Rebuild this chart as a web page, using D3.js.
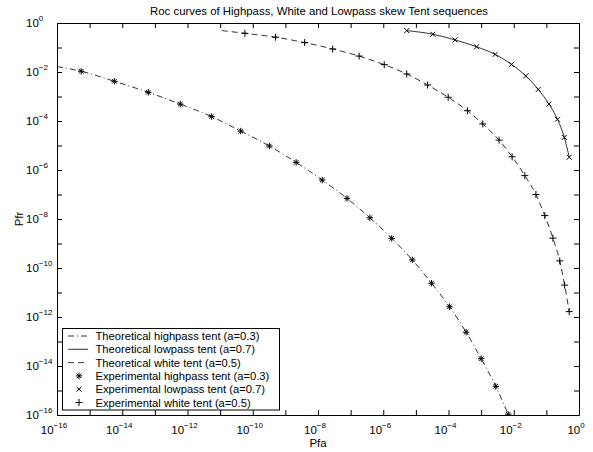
<!DOCTYPE html>
<html>
<head>
<meta charset="utf-8">
<script src="https://cdn.jsdelivr.net/npm/d3@7"></script>
<style>
body { margin: 0; background: #fff; }
text { font-family: Arial, "Liberation Sans", sans-serif; fill: #000; }
</style>
</head>
<body>
<svg id="chart"></svg>
<script>
// values are base-10 exponents
const highpassPfa = [-15.26, -14.24, -13.20, -12.22, -11.26, -10.37, -9.49, -8.67, -7.87, -7.11, -6.41, -5.74, -5.11, -4.52, -3.97, -3.46, -3.00, -2.55, -2.17];
const highpassPfr = [-1.97, -2.38, -2.83, -3.31, -3.82, -4.41, -5.02, -5.69, -6.41, -7.16, -7.95, -8.79, -9.67, -10.62, -11.58, -12.62, -13.70, -14.83, -15.97];

const lowpassPfa = [-5.28, -4.48, -3.80, -3.14, -2.57, -2.07, -1.63, -1.25, -0.92, -0.66, -0.45, -0.30];
const lowpassPfr = [-0.31, -0.46, -0.69, -0.97, -1.28, -1.69, -2.16, -2.71, -3.31, -3.93, -4.67, -5.48];

const whitePfa = [-10.24, -9.30, -8.41, -7.55, -6.74, -5.97, -5.28, -4.64, -4.01, -3.42, -2.95, -2.45, -2.05, -1.66, -1.32, -1.05, -0.80, -0.59, -0.44, -0.30];
const whitePfr = [-0.42, -0.58, -0.80, -1.06, -1.35, -1.70, -2.08, -2.53, -3.03, -3.58, -4.12, -4.78, -5.46, -6.23, -7.00, -7.86, -8.78, -9.71, -10.70, -11.78];

// theoretical curves, read at their ends and through the markers
const hpTheoryPfa = [-16].concat(highpassPfa, [-2.06]);
const hpTheoryPfr = [-1.78].concat(highpassPfr, [-16.3]);
const lpTheoryPfa = lowpassPfa;
const lpTheoryPfr = lowpassPfr;
const whTheoryPfa = [-10.95].concat(whitePfa);
const whTheoryPfr = [-0.31].concat(whitePfr);

const tickExps = d3.range(-16, 1);
const legendLabels = [
  'Theoretical highpass tent (a=0.3)',
  'Theoretical lowpass tent (a=0.7)',
  'Theoretical white tent (a=0.5)',
  'Experimental highpass tent (a=0.3)',
  'Experimental lowpass tent (a=0.7)',
  'Experimental white tent (a=0.5)'
];

const W = 593, H = 452;
const m = { left: 57, right: 14, top: 23, bottom: 37 };

const svg = d3.select('#chart').attr('width', W).attr('height', H);

const x = d3.scaleLog().domain([1e-16, 1]).range([m.left, W - m.right]);
const y = d3.scaleLog().domain([1e-16, 1]).range([H - m.bottom, m.top]);

const pts = (px, py) => px.map((v, i) => [Math.pow(10, v), Math.pow(10, py[i])]);

svg.append('clipPath').attr('id', 'clip')
  .append('rect')
  .attr('x', m.left).attr('y', m.top)
  .attr('width', W - m.left - m.right).attr('height', H - m.top - m.bottom);

// axes, ticks inward on all four sides
const tv = tickExps.map(e => Math.pow(10, e));
const axes = [
  [d3.axisBottom(x), `translate(0,${H - m.bottom})`],
  [d3.axisTop(x), `translate(0,${m.top})`],
  [d3.axisLeft(y), `translate(${m.left},0)`],
  [d3.axisRight(y), `translate(${W - m.right},0)`]
];
axes.forEach(([ax, tr]) => {
  const g = svg.append('g').attr('transform', tr)
    .call(ax.tickValues(tv).tickFormat('').tickSize(-5).tickSizeOuter(0));
  g.select('.domain').attr('stroke', '#000').attr('stroke-width', 1);
  g.selectAll('.tick line').attr('stroke', '#000').attr('stroke-width', 1);
});

// tick labels 10^n for even exponents
const evenExps = tickExps.filter(e => e % 2 === 0);
const fmtExp = e => (e < 0 ? '\u2212' + (-e) : '' + e);

const xl = svg.append('g').selectAll('text').data(evenExps).join('text')
  .attr('x', e => x(Math.pow(10, e)) - 3)
  .attr('y', H - m.bottom + 19)
  .attr('text-anchor', 'middle')
  .style('font-size', '11.5px');
xl.append('tspan').text('10');
xl.append('tspan').attr('dy', -6).style('font-size', '8px').text(fmtExp);

const yl = svg.append('g').selectAll('text').data(evenExps).join('text')
  .attr('x', m.left - 31)
  .attr('y', e => y(Math.pow(10, e)) + 4)
  .attr('text-anchor', 'start')
  .style('font-size', '11.5px');
yl.append('tspan').text('10');
yl.append('tspan').attr('dy', -6).style('font-size', '8px').text(fmtExp);

svg.append('text').attr('x', (m.left + W - m.right) / 2).attr('y', 447)
  .attr('text-anchor', 'middle').style('font-size', '11.4px').text('Pfa');
svg.append('text').attr('transform', `translate(23,${(m.top + H - m.bottom) / 2}) rotate(-90)`)
  .attr('text-anchor', 'middle').style('font-size', '11.4px').text('Pfr');
svg.append('text').attr('x', (m.left + W - m.right) / 2 + 1).attr('y', 14.5)
  .attr('text-anchor', 'middle').style('font-size', '11.4px')
  .text('Roc curves of Highpass, White and Lowpass skew Tent sequences');

// curves
const line = d3.line().x(d => x(d[0])).y(d => y(d[1])).curve(d3.curveMonotoneX);
const dashHp = '6,3,1,3', dashWh = '6,4';

const plot = svg.append('g').attr('clip-path', 'url(#clip)');
plot.append('path').datum(pts(hpTheoryPfa, hpTheoryPfr)).attr('d', line)
  .attr('fill', 'none').attr('stroke', '#000').attr('stroke-width', 0.8).attr('stroke-dasharray', dashHp);
plot.append('path').datum(pts(lpTheoryPfa, lpTheoryPfr)).attr('d', line)
  .attr('fill', 'none').attr('stroke', '#000').attr('stroke-width', 0.8);
plot.append('path').datum(pts(whTheoryPfa, whTheoryPfr)).attr('d', line)
  .attr('fill', 'none').attr('stroke', '#000').attr('stroke-width', 0.8).attr('stroke-dasharray', dashWh);

// marker shapes
const star = r => { const d = r * 0.7071;
  return `M${-r},0L${r},0M0,${-r}L0,${r}M${-d},${-d}L${d},${d}M${-d},${d}L${d},${-d}`; };
const cross = r => `M${-r},${-r}L${r},${r}M${-r},${r}L${r},${-r}`;
const plus = r => `M${-r},0L${r},0M0,${-r}L0,${r}`;

function markers(data, shape) {
  plot.append('g').selectAll('path').data(data).join('path')
    .attr('transform', d => `translate(${x(d[0])},${y(d[1])})`)
    .attr('d', shape).attr('fill', 'none').attr('stroke', '#000').attr('stroke-width', 1);
}
markers(pts(highpassPfa, highpassPfr), star(3.2));
markers(pts(lowpassPfa, lowpassPfr), cross(2.5));
markers(pts(whitePfa, whitePfr), plus(3.5));

// legend
const lg = svg.append('g');
lg.append('rect').attr('x', 62.5).attr('y', 328.5).attr('width', 217).attr('height', 81.5)
  .attr('fill', '#fff').attr('stroke', '#000').attr('stroke-width', 1);
const rowY = i => 336 + i * 13.3;
const lineDash = [dashHp, null, dashWh];
lineDash.forEach((dash, i) => {
  lg.append('line').attr('x1', 68).attr('x2', 88).attr('y1', rowY(i)).attr('y2', rowY(i))
    .attr('stroke', '#000').attr('stroke-width', 0.8).attr('stroke-dasharray', dash);
});
[star(3.2), cross(2.5), plus(3.5)].forEach((s, i) => {
  lg.append('path').attr('transform', `translate(79,${rowY(i + 3)})`).attr('d', s)
    .attr('fill', 'none').attr('stroke', '#000').attr('stroke-width', 1);
});
lg.selectAll('text').data(legendLabels).join('text')
  .attr('x', 95.5).attr('y', (d, i) => rowY(i) + 4)
  .style('font-size', '11.2px').text(d => d);
</script>
</body>
</html>
